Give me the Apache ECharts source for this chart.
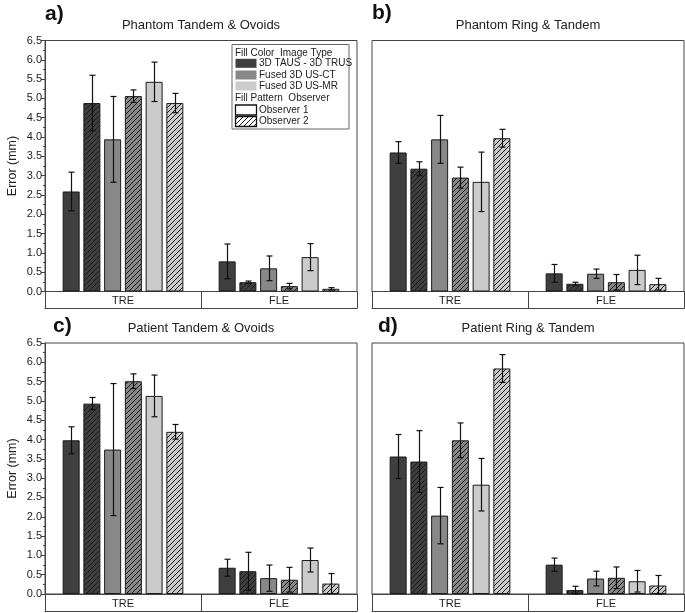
<!DOCTYPE html>
<html>
<head>
<meta charset="utf-8">
<script src="https://cdn.jsdelivr.net/npm/echarts@6/dist/echarts.min.js"></script>
<style>
html,body{margin:0;padding:0;background:#fff;}
#chart{width:685px;height:613px;}
</style>
</head>
<body>
<div id="chart"></div>
<script>
// ---------- data ----------
const categories = ['TRE', 'FLE'];
const seriesNames = [
  '3D TAUS - 3D TRUS / Observer 1', '3D TAUS - 3D TRUS / Observer 2',
  'Fused 3D US-CT / Observer 1', 'Fused 3D US-CT / Observer 2',
  'Fused 3D US-MR / Observer 1', 'Fused 3D US-MR / Observer 2'
];
const panelTitles = ['Phantom Tandem & Ovoids', 'Phantom Ring & Tandem', 'Patient Tandem & Ovoids', 'Patient Ring & Tandem'];
const panelLetters = ['a)', 'b)', 'c)', 'd)'];
const legendImageTypes = ['3D TAUS - 3D TRUS', 'Fused 3D US-CT', 'Fused 3D US-MR'];
const legendObservers = ['Observer 1', 'Observer 2'];

// panel a: Phantom Tandem & Ovoids
const aTRE    = [2.59, 4.88, 3.94, 5.06, 5.43, 4.88];
const aTREerr = [0.50, 0.72, 1.11, 0.16, 0.51, 0.25];
const aFLE    = [0.78, 0.24, 0.60, 0.14, 0.89, 0.07];
const aFLEerr = [0.45, 0.03, 0.32, 0.07, 0.35, 0.03];
// panel b: Phantom Ring & Tandem
const bTRE    = [3.60, 3.18, 3.94, 2.95, 2.84, 3.97];
const bTREerr = [0.28, 0.18, 0.62, 0.27, 0.77, 0.23];
const bFLE    = [0.47, 0.20, 0.46, 0.24, 0.56, 0.19];
const bFLEerr = [0.23, 0.04, 0.12, 0.20, 0.38, 0.15];
// panel c: Patient Tandem & Ovoids
const cTRE    = [3.98, 4.93, 3.74, 5.51, 5.13, 4.20];
const cTREerr = [0.35, 0.16, 1.71, 0.19, 0.54, 0.19];
const cFLE    = [0.68, 0.59, 0.41, 0.37, 0.88, 0.27];
const cFLEerr = [0.22, 0.49, 0.34, 0.32, 0.31, 0.26];
// panel d: Patient Ring & Tandem
const dTRE    = [3.56, 3.43, 2.03, 3.98, 2.83, 5.84];
const dTREerr = [0.57, 0.80, 0.73, 0.45, 0.68, 0.36];
const dFLE    = [0.76, 0.10, 0.40, 0.42, 0.33, 0.22];
const dFLEerr = [0.17, 0.10, 0.19, 0.28, 0.28, 0.26];

const yMin = 0, yMax = 6.5, yInterval = 0.5;

// ---------- styling ----------
const FONT = "'Liberation Sans', Arial, sans-serif";
const fillColors = ['#3f3f3f', '#888888', '#cbcbcb'];
const lineCol = '#444';
const BAR_W = 17, GAP_RATIO = 0.22;

function hatchPattern(bg) {
  const s = 5;
  const c = document.createElement('canvas');
  c.width = s; c.height = s;
  const g = c.getContext('2d');
  g.fillStyle = bg || '#ffffff';
  g.fillRect(0, 0, s, s);
  g.strokeStyle = '#1a1a1a';
  g.lineWidth = 1;
  g.beginPath();
  g.moveTo(-1, s + 1); g.lineTo(s + 1, -1);
  g.moveTo(-1, 1); g.lineTo(1, -1);
  g.moveTo(s - 1, s + 1); g.lineTo(s + 1, s - 1);
  g.stroke();
  return { image: c, repeat: 'repeat' };
}

const panels = [
  { mean: [aTRE, aFLE], err: [aTREerr, aFLEerr], left: 45,  top: 40.5, showY: true },
  { mean: [bTRE, bFLE], err: [bTREerr, bFLEerr], left: 372, top: 40.5, showY: false },
  { mean: [cTRE, cFLE], err: [cTREerr, cFLEerr], left: 45,  top: 343,  showY: true },
  { mean: [dTRE, dFLE], err: [dTREerr, dFLEerr], left: 372, top: 343,  showY: false }
];
const GRID_W = 312, GRID_H = 251;

const grid = [], xAxis = [], yAxis = [], series = [];
panels.forEach((p, pi) => {
  grid.push({ left: p.left, top: p.top, width: GRID_W, height: GRID_H, show: true,
              borderColor: lineCol, borderWidth: 1, backgroundColor: 'transparent',
              containLabel: false, outerBoundsMode: 'none' });
  xAxis.push({
    gridIndex: pi, type: 'category', data: categories, position: 'bottom',
    axisLine: { show: true, lineStyle: { color: lineCol, width: 1 } },
    axisTick: { show: true, length: 17, inside: false, interval: 0, alignWithLabel: false, lineStyle: { color: lineCol } },
    axisLabel: { show: true, margin: 4, fontSize: 11, color: '#222', fontFamily: FONT, interval: 0 },
    splitLine: { show: false }
  });
  xAxis.push({
    gridIndex: pi, type: 'category', data: categories, position: 'bottom', offset: 17,
    axisLine: { show: true, lineStyle: { color: lineCol, width: 1 } },
    axisTick: { show: false }, axisLabel: { show: false }, splitLine: { show: false }
  });
  yAxis.push({
    gridIndex: pi, type: 'value', min: yMin, max: yMax, interval: yInterval,
    axisLine: { show: p.showY, lineStyle: { color: lineCol } },
    axisTick: { show: p.showY, length: 4, lineStyle: { color: lineCol } },
    minorTick: { show: p.showY, splitNumber: 2, length: 2, lineStyle: { color: lineCol } },
    splitLine: { show: false },
    axisLabel: { show: p.showY, fontSize: 11, color: '#222', margin: 3, fontFamily: FONT,
                 formatter: v => v.toFixed(1) },
    name: p.showY ? 'Error (mm)' : '', nameLocation: 'middle', nameGap: 26,
    nameTextStyle: { fontSize: 12.5, color: '#222', fontFamily: FONT }
  });
  for (let k = 0; k < 6; k++) {
    const base = fillColors[Math.floor(k / 2)];
    const hatched = k % 2 === 1;
    series.push({
      type: 'bar', name: seriesNames[k],
      xAxisIndex: pi * 2, yAxisIndex: pi,
      data: [p.mean[0][k], p.mean[1][k]],
      barWidth: BAR_W, barGap: (GAP_RATIO * 100) + '%',
      itemStyle: { color: hatched ? hatchPattern(base) : base, borderColor: '#1a1a1a', borderWidth: 1 },
      emphasis: { disabled: true }, silent: true, z: 2
    });
  }
  const errData = [];
  for (let ci = 0; ci < 2; ci++) {
    for (let k = 0; k < 6; k++) errData.push([ci, p.mean[ci][k], p.err[ci][k], k]);
  }
  series.push({
    type: 'custom', xAxisIndex: pi * 2, yAxisIndex: pi, data: errData, z: 5, silent: true,
    renderItem: (params, api) => {
      const ci = api.value(0), v = api.value(1), e = api.value(2), k = api.value(3);
      const step = BAR_W * (1 + GAP_RATIO);
      const hi = api.coord([ci, v + e]);
      const lo = api.coord([ci, Math.max(v - e, 0)]);
      const x = Math.round(hi[0] + (k - 2.5) * step) + 0.5;
      const cap = 3;
      const st = { stroke: '#111', lineWidth: 1.2 };
      return { type: 'group', children: [
        { type: 'line', shape: { x1: x, y1: hi[1], x2: x, y2: lo[1] }, style: st },
        { type: 'line', shape: { x1: x - cap, y1: hi[1], x2: x + cap, y2: hi[1] }, style: st },
        { type: 'line', shape: { x1: x - cap, y1: lo[1], x2: x + cap, y2: lo[1] }, style: st }
      ]};
    }
  });
});

// ---------- titles, panel letters, legend ----------
const graphic = [];
const titlePos = [[201, 25], [528, 25], [201, 328], [528, 328]];
const letterPos = [[45, 14], [372, 13], [53, 326], [378, 326]];
panelTitles.forEach((t, i) => {
  graphic.push({ type: 'text', x: titlePos[i][0], y: titlePos[i][1],
    style: { text: t, fill: '#222', font: '13px ' + FONT, textAlign: 'center', textVerticalAlign: 'middle' } });
  graphic.push({ type: 'text', x: letterPos[i][0], y: letterPos[i][1],
    style: { text: panelLetters[i], fill: '#111', font: 'bold 21px ' + FONT, textAlign: 'left', textVerticalAlign: 'middle' } });
});

const LX = 232, LY = 44.5, LW = 117, LH = 84.5;
const legendChildren = [
  { type: 'rect', shape: { x: LX, y: LY, width: LW, height: LH }, style: { fill: '#fff', stroke: '#666', lineWidth: 1 } },
  { type: 'text', x: LX + 3, y: 53.5, style: { text: 'Fill Color  Image Type', fill: '#222', font: '10px ' + FONT, textVerticalAlign: 'middle' } }
];
const colorRowsY = [63.3, 75, 86];
legendImageTypes.forEach((t, i) => {
  legendChildren.push({ type: 'rect', shape: { x: LX + 3.5, y: colorRowsY[i] - 4.5, width: 21, height: 9 }, style: { fill: fillColors[i] } });
  legendChildren.push({ type: 'text', x: LX + 27, y: colorRowsY[i], style: { text: t, fill: '#222', font: '10px ' + FONT, textVerticalAlign: 'middle' } });
});
legendChildren.push({ type: 'text', x: LX + 3, y: 98.3, style: { text: 'Fill Pattern  Observer', fill: '#222', font: '10px ' + FONT, textVerticalAlign: 'middle' } });
const obsRowsY = [110, 121.5];
legendObservers.forEach((t, i) => {
  legendChildren.push({ type: 'rect', shape: { x: LX + 3.5, y: obsRowsY[i] - 5, width: 21, height: 10 },
    style: { fill: i === 0 ? '#fff' : hatchPattern('#ffffff'), stroke: '#111', lineWidth: 1.3 } });
  legendChildren.push({ type: 'text', x: LX + 27, y: obsRowsY[i], style: { text: t, fill: '#222', font: '10px ' + FONT, textVerticalAlign: 'middle' } });
});
graphic.push({ type: 'group', z: 20, children: legendChildren });

const chart = echarts.init(document.getElementById('chart'), null, { renderer: 'canvas' });
chart.setOption({
  animation: false,
  backgroundColor: '#fff',
  textStyle: { fontFamily: FONT },
  grid, xAxis, yAxis, series, graphic
});
</script>
</body>
</html>
